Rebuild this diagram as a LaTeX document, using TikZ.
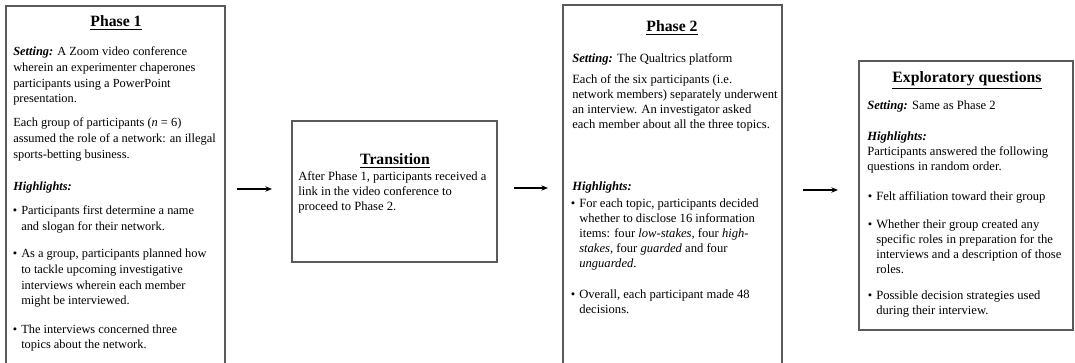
\documentclass[tikz,border=0pt]{standalone}
\usepackage{fontspec}
\setmainfont{Liberation Serif}
\usetikzlibrary{arrows.meta,fit}
\definecolor{boxgray}{HTML}{5A5A5A}
\begin{document}
\begin{tikzpicture}[x=0.75pt,y=-0.75pt,
  box/.style={draw=boxgray,line width=1.1pt,inner sep=0pt},
  % anchor = baseline of the LAST line of each block
  txt/.style={anchor=base west,align=left,inner sep=0pt,font=\fontsize{9.45}{11.25}\selectfont},
  txta/.style={anchor=base west,align=left,inner sep=0pt,font=\fontsize{9.3}{11.7}\selectfont},
  ttl/.style={anchor=base,inner sep=0pt,font=\fontsize{11.8}{13}\selectfont\bfseries},
  arr/.style={-{Stealth[length=5pt,width=4pt]},line width=0.9pt,black}
]
\useasboundingbox (0,0) rectangle (1075,363);
\begin{scope}
\clip (0,0) rectangle (1075,363);
% boxes
\node[box,fit={(6,6) (225,380)}] (p1) {};
\node[box,fit={(292,121) (497,262)}] (tr) {};
\node[box,fit={(563,5) (782,380)}] (p2) {};
\node[box,fit={(859,61) (1073,330)}] (ex) {};
\end{scope}

% Phase 1
\node[ttl] (p1t) at (116,27) {\underline{Phase 1}};
\node[txta] (p1s) at (13,102.8) {\textbf{\textit{Setting:}} A Zoom video conference\\wherein an experimenter chaperones\\participants using a PowerPoint\\presentation.};
\node[txta] (p1e) at (13,158.2) {Each group of participants (\textit{n} = 6)\\assumed the role of a network: an illegal\\sports-betting business.};
\node[txta] (p1h) at (13,191) {\textbf{\textit{Highlights:}}};
\node[txta] (p1b1) at (21,230.6) {\llap{•\hspace{3pt}}Participants first determine a name\\and slogan for their network.};
\node[txta] (p1b2) at (21,304.8) {\llap{•\hspace{3pt}}As a group, participants planned how\\to tackle upcoming investigative\\interviews wherein each member\\might be interviewed.};
\node[txta] (p1b3) at (21,348.6) {\llap{•\hspace{3pt}}The interviews concerned three\\topics about the network.};

% Transition
\node[ttl] (trt) at (395,165) {\underline{Transition}};
\node[txt] (trx) at (298,211) {After Phase 1, participants received a\\link in the video conference to\\proceed to Phase 2.};

% Phase 2
\node[ttl] (p2t) at (672,32) {\underline{Phase 2}};
\node[txt] (p2s) at (572,63) {\textbf{\textit{Setting:}} The Qualtrics platform};
\node[txt] (p2e) at (572,129) {Each of the six participants (i.e.\\network members) separately underwent\\an interview. An investigator asked\\each member about all the three topics.};
\node[txt] (p2h) at (572,191) {\textbf{\textit{Highlights:}}};
\node[txt] (p2b1) at (579,268) {\llap{•\hspace{3pt}}For each topic, participants decided\\whether to disclose 16 information\\items: four \textit{low-stakes}, four \textit{high-}\\\textit{stakes}, four \textit{guarded} and four\\\textit{unguarded}.};
\node[txt] (p2b2) at (579,314) {\llap{•\hspace{3pt}}Overall, each participant made 48\\decisions.};

% Exploratory
\node[ttl] (ext) at (967,83) {\underline{Exploratory questions}};
\node[txt] (exs) at (867,109.5) {\textbf{\textit{Setting:}} Same as Phase 2};
\node[txt] (exh) at (867,170.5) {\textbf{\textit{Highlights:}}\\Participants answered the following\\questions in random order.};
\node[txt] (exb1) at (876,201) {\llap{•\hspace{3pt}}Felt affiliation toward their group};
\node[txt] (exb2) at (876,273.5) {\llap{•\hspace{3pt}}Whether their group created any\\specific roles in preparation for the\\interviews and a description of those\\roles.};
\node[txt] (exb3) at (876,314.5) {\llap{•\hspace{3pt}}Possible decision strategies used\\during their interview.};

% arrows
\coordinate (a1s) at (237,189);
\coordinate (a1e) at (272,189);
\coordinate (a2s) at (514,188);
\coordinate (a2e) at (548,188);
\coordinate (a3s) at (803,190);
\coordinate (a3e) at (838,190);
\draw[arr] (a1s) -- (a1e);
\draw[arr] (a2s) -- (a2e);
\draw[arr] (a3s) -- (a3e);
\end{tikzpicture}
\end{document}
